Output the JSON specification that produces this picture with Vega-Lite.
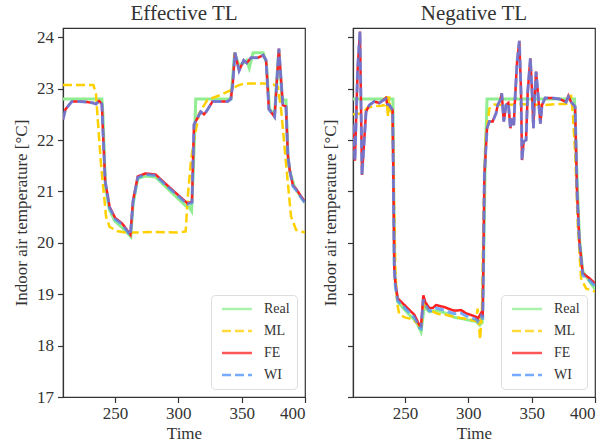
{
  "$schema": "https://vega.github.io/schema/vega-lite/v6.json",
  "padding": {"left": 11, "top": 2, "right": 6, "bottom": 4},
  "config": {
    "font": "Liberation Serif, Times New Roman, serif",
    "view": {"stroke": "#333333", "strokeWidth": 1.2},
    "axis": {"grid": false, "labelFont": "Liberation Serif, Times New Roman, serif", "labelFontSize": 17, "labelColor": "#333333", "titleFont": "Liberation Serif, Times New Roman, serif", "titleFontSize": 17, "titleFontWeight": "normal", "titleColor": "#333333", "domainColor": "#333333", "tickColor": "#333333", "tickSize": 5.5, "domainWidth": 1.2, "tickWidth": 1.2, "labelPadding": 3},
    "title": {"font": "Liberation Serif, Times New Roman, serif", "fontSize": 21, "fontWeight": "normal", "color": "#333333", "offset": 4, "frame": "group"},
    "legend": {"labelFont": "Liberation Serif, Times New Roman, serif", "labelFontSize": 14, "labelColor": "#333333", "symbolType": "M-1,0H9", "symbolSize": 36, "symbolStrokeWidth": 2.5, "symbolFillColor": "transparent", "strokeColor": "#dddddd", "cornerRadius": 4, "fillColor": "white", "padding": 7, "rowPadding": 8, "labelOffset": 32, "orient": "bottom-right", "offset": 8, "title": null}
  },
  "datasets": {
    "d": [
      {"p":"E","s":"Real","t":209,"v":22.8},{"p":"E","s":"Real","t":239.7,"v":22.8},{"p":"E","s":"Real","t":240.5,"v":22.5},{"p":"E","s":"Real","t":241.5,"v":21.8},{"p":"E","s":"Real","t":242.5,"v":21.1},{"p":"E","s":"Real","t":245.5,"v":20.65},{"p":"E","s":"Real","t":250,"v":20.42},{"p":"E","s":"Real","t":255.5,"v":20.3},{"p":"E","s":"Real","t":259.5,"v":20.2},{"p":"E","s":"Real","t":262.5,"v":20.12},{"p":"E","s":"Real","t":264.3,"v":20.75},{"p":"E","s":"Real","t":268,"v":21.25},{"p":"E","s":"Real","t":274,"v":21.3},{"p":"E","s":"Real","t":282,"v":21.28},{"p":"E","s":"Real","t":292.6,"v":21.03},{"p":"E","s":"Real","t":305.8,"v":20.72},{"p":"E","s":"Real","t":308.5,"v":20.7},{"p":"E","s":"Real","t":310.5,"v":20.62},{"p":"E","s":"Real","t":312,"v":21.5},{"p":"E","s":"Real","t":313.8,"v":22.8},{"p":"E","s":"Real","t":341.5,"v":22.8},{"p":"E","s":"Real","t":344.5,"v":23.7},{"p":"E","s":"Real","t":347.8,"v":23.45},{"p":"E","s":"Real","t":351.5,"v":23.5},{"p":"E","s":"Real","t":354,"v":23.55},{"p":"E","s":"Real","t":356,"v":23.4},{"p":"E","s":"Real","t":359,"v":23.7},{"p":"E","s":"Real","t":362,"v":23.7},{"p":"E","s":"Real","t":367,"v":23.7},{"p":"E","s":"Real","t":369.5,"v":23.5},{"p":"E","s":"Real","t":372,"v":22.6},{"p":"E","s":"Real","t":376,"v":22.5},{"p":"E","s":"Real","t":379.3,"v":23.75},{"p":"E","s":"Real","t":382,"v":22.78},{"p":"E","s":"Real","t":385,"v":22.78},{"p":"E","s":"Real","t":386.5,"v":21.7},{"p":"E","s":"Real","t":388,"v":21.4},{"p":"E","s":"Real","t":391.5,"v":21.1},{"p":"E","s":"Real","t":397,"v":20.88},{"p":"E","s":"Real","t":400,"v":20.78},

      {"p":"E","s":"ML","t":209,"v":23.07},{"p":"E","s":"ML","t":233,"v":23.07},{"p":"E","s":"ML","t":235,"v":22.9},{"p":"E","s":"ML","t":238.9,"v":21.55},{"p":"E","s":"ML","t":243,"v":20.51},{"p":"E","s":"ML","t":245.8,"v":20.31},{"p":"E","s":"ML","t":251.6,"v":20.23},{"p":"E","s":"ML","t":258,"v":20.2},{"p":"E","s":"ML","t":267.5,"v":20.2},{"p":"E","s":"ML","t":280,"v":20.21},{"p":"E","s":"ML","t":300,"v":20.2},{"p":"E","s":"ML","t":305.8,"v":20.22},{"p":"E","s":"ML","t":307.5,"v":20.9},{"p":"E","s":"ML","t":310,"v":21.6},{"p":"E","s":"ML","t":312.4,"v":22.0},{"p":"E","s":"ML","t":316.4,"v":22.52},{"p":"E","s":"ML","t":323,"v":22.78},{"p":"E","s":"ML","t":333.6,"v":22.88},{"p":"E","s":"ML","t":341.5,"v":22.97},{"p":"E","s":"ML","t":346,"v":23.05},{"p":"E","s":"ML","t":352,"v":23.1},{"p":"E","s":"ML","t":368,"v":23.1},{"p":"E","s":"ML","t":375,"v":23.08},{"p":"E","s":"ML","t":378.6,"v":23.04},{"p":"E","s":"ML","t":381.2,"v":22.58},{"p":"E","s":"ML","t":385,"v":21.55},{"p":"E","s":"ML","t":389,"v":20.51},{"p":"E","s":"ML","t":393,"v":20.25},{"p":"E","s":"ML","t":400,"v":20.2},

      {"p":"E","s":"FE","t":209,"v":22.4},{"p":"E","s":"FE","t":211,"v":22.6},{"p":"E","s":"FE","t":216,"v":22.75},{"p":"E","s":"FE","t":222,"v":22.75},{"p":"E","s":"FE","t":228,"v":22.74},{"p":"E","s":"FE","t":233,"v":22.72},{"p":"E","s":"FE","t":235,"v":22.7},{"p":"E","s":"FE","t":237.5,"v":22.76},{"p":"E","s":"FE","t":239.7,"v":22.7},{"p":"E","s":"FE","t":240.5,"v":22.2},{"p":"E","s":"FE","t":242.3,"v":21.2},{"p":"E","s":"FE","t":245.8,"v":20.7},{"p":"E","s":"FE","t":250.3,"v":20.48},{"p":"E","s":"FE","t":255.6,"v":20.38},{"p":"E","s":"FE","t":259.5,"v":20.25},{"p":"E","s":"FE","t":262.2,"v":20.16},{"p":"E","s":"FE","t":264.3,"v":20.83},{"p":"E","s":"FE","t":268,"v":21.29},{"p":"E","s":"FE","t":274,"v":21.35},{"p":"E","s":"FE","t":282,"v":21.33},{"p":"E","s":"FE","t":292.6,"v":21.09},{"p":"E","s":"FE","t":305.8,"v":20.8},{"p":"E","s":"FE","t":307.2,"v":20.77},{"p":"E","s":"FE","t":310.8,"v":20.8},{"p":"E","s":"FE","t":312.4,"v":22.3},{"p":"E","s":"FE","t":317.7,"v":22.55},{"p":"E","s":"FE","t":320.3,"v":22.5},{"p":"E","s":"FE","t":322,"v":22.55},{"p":"E","s":"FE","t":327,"v":22.75},{"p":"E","s":"FE","t":339,"v":22.75},{"p":"E","s":"FE","t":341.5,"v":22.8},{"p":"E","s":"FE","t":343,"v":23.1},{"p":"E","s":"FE","t":344.7,"v":23.7},{"p":"E","s":"FE","t":348,"v":23.35},{"p":"E","s":"FE","t":351.6,"v":23.55},{"p":"E","s":"FE","t":354,"v":23.5},{"p":"E","s":"FE","t":357.4,"v":23.6},{"p":"E","s":"FE","t":362.7,"v":23.6},{"p":"E","s":"FE","t":367,"v":23.65},{"p":"E","s":"FE","t":369.3,"v":23.55},{"p":"E","s":"FE","t":371.5,"v":22.6},{"p":"E","s":"FE","t":376,"v":22.45},{"p":"E","s":"FE","t":379.4,"v":23.78},{"p":"E","s":"FE","t":382.5,"v":22.68},{"p":"E","s":"FE","t":385,"v":22.65},{"p":"E","s":"FE","t":386.5,"v":21.7},{"p":"E","s":"FE","t":388,"v":21.4},{"p":"E","s":"FE","t":390.5,"v":21.12},{"p":"E","s":"FE","t":393,"v":21.05},{"p":"E","s":"FE","t":397,"v":20.9},{"p":"E","s":"FE","t":400,"v":20.8},

      {"p":"E","s":"WI","t":209,"v":22.4},{"p":"E","s":"WI","t":211,"v":22.6},{"p":"E","s":"WI","t":216,"v":22.75},{"p":"E","s":"WI","t":222,"v":22.75},{"p":"E","s":"WI","t":228,"v":22.74},{"p":"E","s":"WI","t":233,"v":22.72},{"p":"E","s":"WI","t":235,"v":22.7},{"p":"E","s":"WI","t":237.5,"v":22.76},{"p":"E","s":"WI","t":239.7,"v":22.7},{"p":"E","s":"WI","t":240.5,"v":22.2},{"p":"E","s":"WI","t":242.3,"v":21.2},{"p":"E","s":"WI","t":245.8,"v":20.68},{"p":"E","s":"WI","t":250.3,"v":20.46},{"p":"E","s":"WI","t":255.6,"v":20.36},{"p":"E","s":"WI","t":259.5,"v":20.23},{"p":"E","s":"WI","t":262.2,"v":20.15},{"p":"E","s":"WI","t":264.3,"v":20.8},{"p":"E","s":"WI","t":268,"v":21.27},{"p":"E","s":"WI","t":274,"v":21.33},{"p":"E","s":"WI","t":282,"v":21.31},{"p":"E","s":"WI","t":292.6,"v":21.07},{"p":"E","s":"WI","t":305.8,"v":20.78},{"p":"E","s":"WI","t":307.2,"v":20.75},{"p":"E","s":"WI","t":310.8,"v":20.78},{"p":"E","s":"WI","t":312.4,"v":22.3},{"p":"E","s":"WI","t":317.7,"v":22.55},{"p":"E","s":"WI","t":320.3,"v":22.5},{"p":"E","s":"WI","t":322,"v":22.55},{"p":"E","s":"WI","t":327,"v":22.75},{"p":"E","s":"WI","t":339,"v":22.75},{"p":"E","s":"WI","t":341.5,"v":22.8},{"p":"E","s":"WI","t":343,"v":23.1},{"p":"E","s":"WI","t":344.7,"v":23.7},{"p":"E","s":"WI","t":348,"v":23.35},{"p":"E","s":"WI","t":351.6,"v":23.55},{"p":"E","s":"WI","t":354,"v":23.5},{"p":"E","s":"WI","t":357.4,"v":23.6},{"p":"E","s":"WI","t":362.7,"v":23.6},{"p":"E","s":"WI","t":367,"v":23.65},{"p":"E","s":"WI","t":369.3,"v":23.55},{"p":"E","s":"WI","t":371.5,"v":22.6},{"p":"E","s":"WI","t":376,"v":22.45},{"p":"E","s":"WI","t":379.4,"v":23.78},{"p":"E","s":"WI","t":382.5,"v":22.68},{"p":"E","s":"WI","t":385,"v":22.65},{"p":"E","s":"WI","t":386.5,"v":21.7},{"p":"E","s":"WI","t":388,"v":21.4},{"p":"E","s":"WI","t":390.5,"v":21.1},{"p":"E","s":"WI","t":393,"v":21.03},{"p":"E","s":"WI","t":397,"v":20.88},{"p":"E","s":"WI","t":400,"v":20.78},

      {"p":"N","s":"Real","t":209,"v":22.8},{"p":"N","s":"Real","t":240.5,"v":22.8},{"p":"N","s":"Real","t":241.6,"v":19.6},{"p":"N","s":"Real","t":242.5,"v":19.2},{"p":"N","s":"Real","t":244.3,"v":18.85},{"p":"N","s":"Real","t":252.2,"v":18.63},{"p":"N","s":"Real","t":258.7,"v":18.47},{"p":"N","s":"Real","t":262.7,"v":18.27},{"p":"N","s":"Real","t":265.3,"v":18.76},{"p":"N","s":"Real","t":269.2,"v":18.66},{"p":"N","s":"Real","t":275,"v":18.68},{"p":"N","s":"Real","t":281,"v":18.64},{"p":"N","s":"Real","t":289,"v":18.55},{"p":"N","s":"Real","t":294,"v":18.53},{"p":"N","s":"Real","t":299.6,"v":18.5},{"p":"N","s":"Real","t":306.1,"v":18.47},{"p":"N","s":"Real","t":309,"v":18.4},{"p":"N","s":"Real","t":311,"v":18.45},{"p":"N","s":"Real","t":312,"v":19.5},{"p":"N","s":"Real","t":313.5,"v":21.8},{"p":"N","s":"Real","t":314.8,"v":22.8},{"p":"N","s":"Real","t":383.8,"v":22.8},{"p":"N","s":"Real","t":385.5,"v":21.5},{"p":"N","s":"Real","t":387.7,"v":20.1},{"p":"N","s":"Real","t":390.3,"v":19.45},{"p":"N","s":"Real","t":395.6,"v":19.25},{"p":"N","s":"Real","t":400,"v":19.1},

      {"p":"N","s":"ML","t":209,"v":22.5},{"p":"N","s":"ML","t":216.6,"v":22.52},{"p":"N","s":"ML","t":220,"v":22.62},{"p":"N","s":"ML","t":225,"v":22.66},{"p":"N","s":"ML","t":230,"v":22.66},{"p":"N","s":"ML","t":234,"v":22.68},{"p":"N","s":"ML","t":235.5,"v":22.85},{"p":"N","s":"ML","t":236.5,"v":22.45},{"p":"N","s":"ML","t":237.5,"v":22.85},{"p":"N","s":"ML","t":238.5,"v":22.5},{"p":"N","s":"ML","t":240,"v":22.55},{"p":"N","s":"ML","t":241.3,"v":21.0},{"p":"N","s":"ML","t":242.5,"v":19.4},{"p":"N","s":"ML","t":244,"v":18.8},{"p":"N","s":"ML","t":245.6,"v":18.6},{"p":"N","s":"ML","t":250,"v":18.55},{"p":"N","s":"ML","t":254.8,"v":18.52},{"p":"N","s":"ML","t":260.3,"v":18.43},{"p":"N","s":"ML","t":262.7,"v":18.33},{"p":"N","s":"ML","t":264.8,"v":18.86},{"p":"N","s":"ML","t":267,"v":18.75},{"p":"N","s":"ML","t":269.2,"v":18.69},{"p":"N","s":"ML","t":275.9,"v":18.62},{"p":"N","s":"ML","t":282,"v":18.6},{"p":"N","s":"ML","t":290,"v":18.55},{"p":"N","s":"ML","t":296,"v":18.53},{"p":"N","s":"ML","t":306,"v":18.48},{"p":"N","s":"ML","t":307.4,"v":18.72},{"p":"N","s":"ML","t":309.3,"v":18.12},{"p":"N","s":"ML","t":310.8,"v":18.69},{"p":"N","s":"ML","t":312,"v":20.5},{"p":"N","s":"ML","t":313.5,"v":22.0},{"p":"N","s":"ML","t":316.6,"v":22.61},{"p":"N","s":"ML","t":320.5,"v":22.69},{"p":"N","s":"ML","t":330,"v":22.68},{"p":"N","s":"ML","t":340,"v":22.7},{"p":"N","s":"ML","t":360,"v":22.68},{"p":"N","s":"ML","t":370,"v":22.7},{"p":"N","s":"ML","t":377.2,"v":22.7},{"p":"N","s":"ML","t":379.5,"v":22.75},{"p":"N","s":"ML","t":381.1,"v":22.88},{"p":"N","s":"ML","t":382.4,"v":22.55},{"p":"N","s":"ML","t":384.3,"v":21.77},{"p":"N","s":"ML","t":386.4,"v":20.35},{"p":"N","s":"ML","t":389,"v":19.31},{"p":"N","s":"ML","t":393,"v":19.11},{"p":"N","s":"ML","t":400,"v":19.05},

      {"p":"N","s":"FE","t":209,"v":22.3},{"p":"N","s":"FE","t":210.5,"v":21.6},{"p":"N","s":"FE","t":212.7,"v":23.4},{"p":"N","s":"FE","t":214.5,"v":24.11},{"p":"N","s":"FE","t":216.1,"v":21.32},{"p":"N","s":"FE","t":219.3,"v":22.55},{"p":"N","s":"FE","t":221.9,"v":22.68},{"p":"N","s":"FE","t":225.8,"v":22.75},{"p":"N","s":"FE","t":229.7,"v":22.72},{"p":"N","s":"FE","t":232,"v":22.76},{"p":"N","s":"FE","t":235,"v":22.82},{"p":"N","s":"FE","t":236,"v":22.7},{"p":"N","s":"FE","t":237.7,"v":22.68},{"p":"N","s":"FE","t":240.3,"v":22.58},{"p":"N","s":"FE","t":241.6,"v":19.5},{"p":"N","s":"FE","t":242.5,"v":19.2},{"p":"N","s":"FE","t":244.3,"v":18.92},{"p":"N","s":"FE","t":250.8,"v":18.76},{"p":"N","s":"FE","t":257.4,"v":18.6},{"p":"N","s":"FE","t":261.4,"v":18.4},{"p":"N","s":"FE","t":262.7,"v":18.38},{"p":"N","s":"FE","t":264.5,"v":18.98},{"p":"N","s":"FE","t":266,"v":18.85},{"p":"N","s":"FE","t":269.2,"v":18.73},{"p":"N","s":"FE","t":272,"v":18.73},{"p":"N","s":"FE","t":274.5,"v":18.79},{"p":"N","s":"FE","t":281,"v":18.75},{"p":"N","s":"FE","t":286.4,"v":18.7},{"p":"N","s":"FE","t":289,"v":18.68},{"p":"N","s":"FE","t":294.3,"v":18.69},{"p":"N","s":"FE","t":298.2,"v":18.63},{"p":"N","s":"FE","t":306.1,"v":18.56},{"p":"N","s":"FE","t":307.4,"v":18.52},{"p":"N","s":"FE","t":310,"v":18.63},{"p":"N","s":"FE","t":311.4,"v":18.56},{"p":"N","s":"FE","t":312.7,"v":21.32},{"p":"N","s":"FE","t":314.8,"v":22.23},{"p":"N","s":"FE","t":316.6,"v":22.36},{"p":"N","s":"FE","t":319.2,"v":22.36},{"p":"N","s":"FE","t":321.9,"v":22.52},{"p":"N","s":"FE","t":323.2,"v":22.68},{"p":"N","s":"FE","t":325.3,"v":22.78},{"p":"N","s":"FE","t":326.4,"v":22.91},{"p":"N","s":"FE","t":328,"v":22.36},{"p":"N","s":"FE","t":329.8,"v":22.68},{"p":"N","s":"FE","t":331.6,"v":22.72},{"p":"N","s":"FE","t":333.2,"v":22.23},{"p":"N","s":"FE","t":334.5,"v":22.42},{"p":"N","s":"FE","t":335.9,"v":22.29},{"p":"N","s":"FE","t":336.9,"v":22.81},{"p":"N","s":"FE","t":338.5,"v":23.52},{"p":"N","s":"FE","t":340.3,"v":23.93},{"p":"N","s":"FE","t":341.6,"v":22.94},{"p":"N","s":"FE","t":342.4,"v":21.61},{"p":"N","s":"FE","t":343.7,"v":21.97},{"p":"N","s":"FE","t":345.6,"v":22.0},{"p":"N","s":"FE","t":346.9,"v":22.94},{"p":"N","s":"FE","t":349,"v":23.59},{"p":"N","s":"FE","t":350.3,"v":22.94},{"p":"N","s":"FE","t":351.4,"v":22.23},{"p":"N","s":"FE","t":352.2,"v":22.74},{"p":"N","s":"FE","t":353.5,"v":23.33},{"p":"N","s":"FE","t":355.3,"v":22.81},{"p":"N","s":"FE","t":356.9,"v":22.32},{"p":"N","s":"FE","t":358.2,"v":22.68},{"p":"N","s":"FE","t":360.6,"v":22.82},{"p":"N","s":"FE","t":365.3,"v":22.82},{"p":"N","s":"FE","t":371.9,"v":22.8},{"p":"N","s":"FE","t":377.2,"v":22.74},{"p":"N","s":"FE","t":379,"v":22.86},{"p":"N","s":"FE","t":381.1,"v":22.74},{"p":"N","s":"FE","t":384.3,"v":22.65},{"p":"N","s":"FE","t":385.8,"v":21.0},{"p":"N","s":"FE","t":387.7,"v":20.02},{"p":"N","s":"FE","t":390.3,"v":19.41},{"p":"N","s":"FE","t":395.6,"v":19.31},{"p":"N","s":"FE","t":400,"v":19.21},

      {"p":"N","s":"WI","t":209,"v":22.3},{"p":"N","s":"WI","t":210.5,"v":21.6},{"p":"N","s":"WI","t":212.7,"v":23.4},{"p":"N","s":"WI","t":214.5,"v":24.11},{"p":"N","s":"WI","t":216.1,"v":21.32},{"p":"N","s":"WI","t":219.3,"v":22.55},{"p":"N","s":"WI","t":221.9,"v":22.68},{"p":"N","s":"WI","t":225.8,"v":22.75},{"p":"N","s":"WI","t":229.7,"v":22.72},{"p":"N","s":"WI","t":232,"v":22.76},{"p":"N","s":"WI","t":235,"v":22.8},{"p":"N","s":"WI","t":236,"v":22.7},{"p":"N","s":"WI","t":237.7,"v":22.68},{"p":"N","s":"WI","t":240.3,"v":22.58},{"p":"N","s":"WI","t":241.6,"v":19.5},{"p":"N","s":"WI","t":242.5,"v":19.15},{"p":"N","s":"WI","t":244.3,"v":18.87},{"p":"N","s":"WI","t":250.8,"v":18.71},{"p":"N","s":"WI","t":257.4,"v":18.55},{"p":"N","s":"WI","t":261.4,"v":18.35},{"p":"N","s":"WI","t":262.7,"v":18.33},{"p":"N","s":"WI","t":264.5,"v":18.9},{"p":"N","s":"WI","t":266,"v":18.79},{"p":"N","s":"WI","t":269.2,"v":18.68},{"p":"N","s":"WI","t":272,"v":18.68},{"p":"N","s":"WI","t":274.5,"v":18.73},{"p":"N","s":"WI","t":281,"v":18.69},{"p":"N","s":"WI","t":286.4,"v":18.64},{"p":"N","s":"WI","t":289,"v":18.62},{"p":"N","s":"WI","t":294.3,"v":18.63},{"p":"N","s":"WI","t":298.2,"v":18.58},{"p":"N","s":"WI","t":306.1,"v":18.51},{"p":"N","s":"WI","t":307.4,"v":18.47},{"p":"N","s":"WI","t":310,"v":18.58},{"p":"N","s":"WI","t":311.4,"v":18.51},{"p":"N","s":"WI","t":312.7,"v":21.32},{"p":"N","s":"WI","t":314.8,"v":22.23},{"p":"N","s":"WI","t":316.6,"v":22.36},{"p":"N","s":"WI","t":319.2,"v":22.36},{"p":"N","s":"WI","t":321.9,"v":22.52},{"p":"N","s":"WI","t":323.2,"v":22.68},{"p":"N","s":"WI","t":325.3,"v":22.78},{"p":"N","s":"WI","t":326.4,"v":22.91},{"p":"N","s":"WI","t":328,"v":22.36},{"p":"N","s":"WI","t":329.8,"v":22.68},{"p":"N","s":"WI","t":331.6,"v":22.72},{"p":"N","s":"WI","t":333.2,"v":22.23},{"p":"N","s":"WI","t":334.5,"v":22.42},{"p":"N","s":"WI","t":335.9,"v":22.29},{"p":"N","s":"WI","t":336.9,"v":22.81},{"p":"N","s":"WI","t":338.5,"v":23.52},{"p":"N","s":"WI","t":340.3,"v":23.93},{"p":"N","s":"WI","t":341.6,"v":22.94},{"p":"N","s":"WI","t":342.4,"v":21.61},{"p":"N","s":"WI","t":343.7,"v":21.97},{"p":"N","s":"WI","t":345.6,"v":22.0},{"p":"N","s":"WI","t":346.9,"v":22.94},{"p":"N","s":"WI","t":349,"v":23.59},{"p":"N","s":"WI","t":350.3,"v":22.94},{"p":"N","s":"WI","t":351.4,"v":22.23},{"p":"N","s":"WI","t":352.2,"v":22.74},{"p":"N","s":"WI","t":353.5,"v":23.33},{"p":"N","s":"WI","t":355.3,"v":22.81},{"p":"N","s":"WI","t":356.9,"v":22.32},{"p":"N","s":"WI","t":358.2,"v":22.68},{"p":"N","s":"WI","t":360.6,"v":22.82},{"p":"N","s":"WI","t":365.3,"v":22.82},{"p":"N","s":"WI","t":371.9,"v":22.8},{"p":"N","s":"WI","t":377.2,"v":22.74},{"p":"N","s":"WI","t":379,"v":22.84},{"p":"N","s":"WI","t":381.1,"v":22.74},{"p":"N","s":"WI","t":384.3,"v":22.65},{"p":"N","s":"WI","t":385.8,"v":21.0},{"p":"N","s":"WI","t":387.7,"v":20.0},{"p":"N","s":"WI","t":390.3,"v":19.37},{"p":"N","s":"WI","t":395.6,"v":19.27},{"p":"N","s":"WI","t":400,"v":19.16}
    ]
  },
  "spacing": 14,
  "resolve": {"legend": {"color": "independent", "strokeDash": "independent"}},
  "hconcat": [
    {
      "title": "Effective TL",
      "width": 242,
      "height": 369,
      "data": {"name": "d"},
      "transform": [{"filter": "datum.p === 'E'"}],
      "encoding": {
        "x": {"field": "t", "type": "quantitative", "scale": {"domain": [209, 400], "nice": false, "zero": false}, "axis": {"values": [250, 300, 350, 400], "title": "Time"}},
        "y": {"field": "v", "type": "quantitative", "scale": {"domain": [17, 24.18], "nice": false, "zero": false}, "axis": {"values": [17, 18, 19, 20, 21, 22, 23, 24], "title": "Indoor air temperature [°C]", "titlePadding": 6, "labelPadding": 4}},
        "color": {"field": "s", "type": "nominal", "scale": {"domain": ["Real", "ML", "FE", "WI"], "range": ["#90ee90", "#ffd000", "#ff2020", "#4a90ff"]}, "legend": {"title": null}},
        "strokeDash": {"field": "s", "type": "nominal", "scale": {"domain": ["Real", "ML", "FE", "WI"], "range": [[1, 0], [9, 4], [1, 0], [9, 4]]}, "legend": {"title": null}}
      },
      "layer": [
        {"transform": [{"filter": "datum.s === 'Real'"}], "mark": {"type": "line", "strokeWidth": 3, "clip": true}},
        {"transform": [{"filter": "datum.s === 'ML'"}], "mark": {"type": "line", "strokeWidth": 2.5, "clip": true}},
        {"transform": [{"filter": "datum.s === 'FE'"}], "mark": {"type": "line", "strokeWidth": 2.5, "clip": true}},
        {"transform": [{"filter": "datum.s === 'WI'"}], "mark": {"type": "line", "strokeWidth": 3, "opacity": 0.75, "clip": true}}
      ]
    },
    {
      "title": "Negative TL",
      "width": 242,
      "height": 369,
      "data": {"name": "d"},
      "transform": [{"filter": "datum.p === 'N'"}],
      "encoding": {
        "x": {"field": "t", "type": "quantitative", "scale": {"domain": [209, 400], "nice": false, "zero": false}, "axis": {"values": [250, 300, 350, 400], "title": "Time"}},
        "y": {"field": "v", "type": "quantitative", "scale": {"domain": [17, 24.18], "nice": false, "zero": false}, "axis": {"values": [17, 18, 19, 20, 21, 22, 23, 24], "labels": false, "title": "Indoor air temperature [°C]", "titlePadding": 7}},
        "color": {"field": "s", "type": "nominal", "scale": {"domain": ["Real", "ML", "FE", "WI"], "range": ["#90ee90", "#ffd000", "#ff2020", "#4a90ff"]}, "legend": {"title": null}},
        "strokeDash": {"field": "s", "type": "nominal", "scale": {"domain": ["Real", "ML", "FE", "WI"], "range": [[1, 0], [9, 4], [1, 0], [9, 4]]}, "legend": {"title": null}}
      },
      "layer": [
        {"transform": [{"filter": "datum.s === 'Real'"}], "mark": {"type": "line", "strokeWidth": 3, "clip": true}},
        {"transform": [{"filter": "datum.s === 'ML'"}], "mark": {"type": "line", "strokeWidth": 2.5, "clip": true}},
        {"transform": [{"filter": "datum.s === 'FE'"}], "mark": {"type": "line", "strokeWidth": 2.5, "clip": true}},
        {"transform": [{"filter": "datum.s === 'WI'"}], "mark": {"type": "line", "strokeWidth": 3, "opacity": 0.75, "clip": true}}
      ]
    }
  ]
}
